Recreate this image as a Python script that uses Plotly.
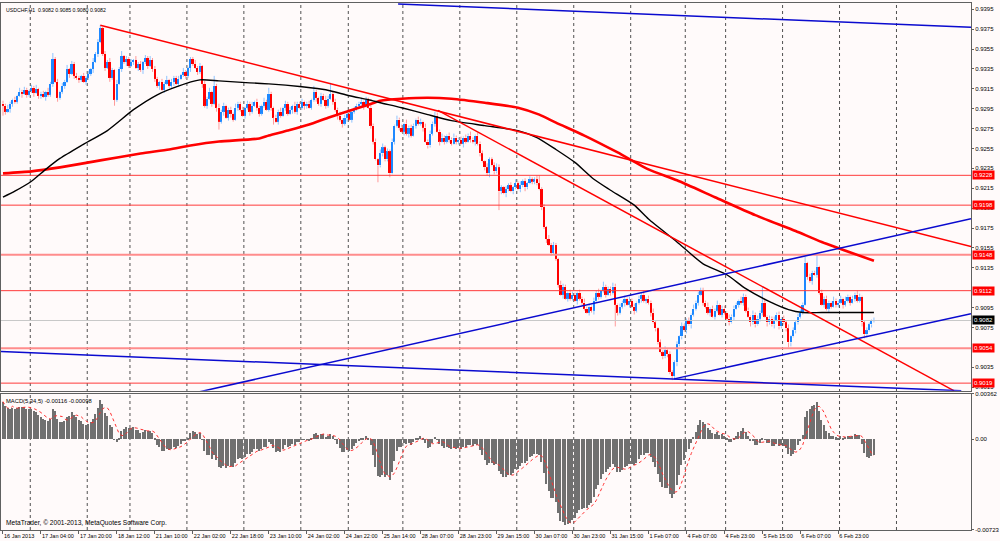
import numpy as np
import plotly.graph_objects as go

# ---------------- data ----------------
symbol_header = "USDCHF,H1  0.9082 0.9085 0.9080 0.9082"
macd_header = "MACD(5,34,5) -0.00116 -0.00098"
copyright_text = "MetaTrader, \u00a9 2001-2013, MetaQuotes Software Corp."

first_open_pips = 9300
close_pips = [
    9298, 9292, 9295, 9300, 9304, 9302, 9308, 9312, 9310, 9314, 9309, 9313, 9316, 9311, 9315, 9308,
    9310, 9307, 9312, 9309, 9320, 9345, 9322, 9306, 9312, 9318, 9322, 9335, 9330, 9340, 9328, 9326,
    9324, 9328, 9322, 9326, 9330, 9335, 9342, 9350, 9362, 9376, 9350, 9336, 9342, 9326, 9334, 9304,
    9320, 9335, 9348, 9342, 9345, 9338, 9342, 9344, 9336, 9340, 9334, 9342, 9346, 9338, 9344, 9335,
    9325, 9318, 9322, 9314, 9320, 9324, 9318, 9322, 9326, 9320, 9325, 9329, 9332, 9328, 9336, 9345,
    9340, 9336, 9332, 9338, 9320, 9298, 9305, 9312, 9300, 9318, 9296, 9282, 9292, 9298, 9286, 9294,
    9290, 9284, 9296, 9300, 9294, 9288, 9296, 9300, 9292, 9298, 9302, 9296, 9290, 9298, 9302, 9294,
    9310, 9296, 9286, 9282, 9292, 9288, 9296, 9300, 9290, 9294, 9298, 9292, 9300, 9296, 9302, 9298,
    9300, 9296, 9304, 9312, 9306, 9300, 9308, 9304, 9298, 9305, 9310, 9302, 9294, 9288, 9284, 9280,
    9286, 9290, 9284, 9292, 9294, 9298, 9300, 9302, 9298, 9304, 9296, 9278, 9262, 9244, 9238, 9250,
    9256, 9244, 9252, 9230, 9262, 9278, 9284, 9276, 9272, 9280, 9270, 9276, 9268, 9278, 9284, 9280,
    9282, 9276, 9262, 9258, 9270, 9280, 9288, 9272, 9262, 9266, 9262, 9268, 9264, 9260, 9266, 9262,
    9264, 9260, 9266, 9262, 9268, 9264, 9262, 9268, 9260, 9250, 9242, 9236, 9230, 9244, 9238, 9232,
    9236, 9212, 9216, 9210, 9214, 9218, 9212, 9216, 9220, 9214, 9218, 9222, 9216, 9220, 9224, 9222,
    9224, 9220, 9214, 9196, 9176, 9164, 9158, 9150, 9158, 9144, 9118, 9108, 9116, 9104, 9110, 9104,
    9108, 9102, 9110, 9104, 9100, 9094, 9090, 9096, 9092, 9102, 9110, 9106, 9112, 9116, 9108, 9114,
    9110, 9116, 9098, 9090, 9096, 9100, 9104, 9098, 9102, 9096, 9092, 9100, 9104, 9108, 9102, 9104,
    9100, 9090, 9080, 9074, 9060, 9050, 9046, 9052, 9048, 9030, 9026, 9040, 9058, 9066, 9076, 9072,
    9082, 9078, 9088, 9094, 9100, 9108, 9112, 9100, 9096, 9090, 9094, 9086, 9092, 9098, 9088, 9094,
    9090, 9084, 9080, 9086, 9094, 9098, 9102, 9100, 9106, 9092, 9086, 9080, 9088, 9078, 9084, 9090,
    9100, 9086, 9080, 9084, 9078, 9082, 9088, 9076, 9084, 9080, 9074, 9060, 9066, 9072, 9080, 9086,
    9090, 9098, 9140, 9126, 9122, 9130, 9128, 9136, 9110, 9098, 9104, 9094, 9100, 9096, 9102, 9098,
    9100, 9104, 9098, 9102, 9106, 9100, 9104, 9108, 9102, 9106, 9080, 9068, 9072, 9078, 9082, 9082,
]

# typical wick lengths in pips (upper / lower), one digit per bar
wick_up_rows = [
    "3242 1314 2321 3241", "2314 2623 1324 1323", "2132 3142 3213 2421", "4231 3231 4231 3242",
    "3213 2413 2231 4213", "2423 1324 1324 2312", "3142 2313 2413 2142", "4213 2413 2314 2231",
    "2314 2132 4312 3241", "3241 3224 1323 2314", "4232 3142 3142 3213", "3142 3213 2421 3242",
    "2313 2421 3231 4223", "4321 3231 4242 3132", "2432 3142 3214 3213", "3213 2423 1324 1322",
    "2431 3231 4231 3241", "3242 1324 1322 3142", "2314 2313 2413 2413", "3142 3214 3231 4232",
    "2413 2423 1324 1323", "3241 3224 1323 2142", "2314 2132 4312 3213",
]
wick_dn_rows = [
    "2314 3221 4132 2413", "3142 2314 2231 4132", "3213 2241 3123 1424", "2132 4213 1324 2313",
    "3241 3122 4131 2324", "2132 4231 3142 2413", "4213 2132 4213 3221", "2341 3213 2142 3124",
    "3122 4231 3213 2424", "2413 2132 4213 3142", "3224 1323 1424 2132", "2413 2231 4132 3213",
    "3142 1324 2313 2413", "2231 4213 2132 4213", "3213 2413 2231 4132", "2142 3213 2413 2231",
    "3213 2241 3142 2423", "2413 2132 3213 4231", "3142 2313 2241 3213", "2231 4132 3214 2313",
    "3142 2413 2231 4132", "2213 2413 2132 4213", "3142 2313 2241 3132",
]
high_spikes = {21: 9351, 41: 9379, 50: 9353, 79: 9347, 89: 9328, 112: 9316, 131: 9318,
               138: 9321, 182: 9292, 226: 9228, 253: 9121, 294: 9115, 320: 9116,
               338: 9146, 343: 9148, 367: 9085}
low_spikes = {0: 9288, 47: 9298, 91: 9274, 114: 9279, 143: 9276, 158: 9221, 163: 9226,
              209: 9193, 258: 9076, 282: 9022, 331: 9055, 363: 9064, 367: 9080}

time_labels = ["16 Jan 2013", "17 Jan 04:00", "17 Jan 20:00", "18 Jan 12:00", "21 Jan 10:00",
               "22 Jan 02:00", "22 Jan 18:00", "23 Jan 10:00", "24 Jan 02:00", "24 Jan 22:00",
               "25 Jan 14:00", "28 Jan 07:00", "28 Jan 23:00", "29 Jan 15:00", "30 Jan 07:00",
               "30 Jan 23:00", "31 Jan 15:00", "1 Feb 07:00", "4 Feb 07:00", "4 Feb 23:00",
               "5 Feb 15:00", "6 Feb 07:00", "6 Feb 23:00"]
label_bars = [16 * k for k in range(len(time_labels))]
day_break_bars = [12, 36, 54, 78, 102, 126, 146, 169, 193, 217, 241, 265, 288, 305, 329, 353, 377]

black_ma_bars = [0, 5, 12, 18, 24, 33, 44, 55, 65, 73, 83, 91, 104, 112, 126, 136, 146, 154, 159,
                 168, 179, 189, 203, 217, 225, 233, 241, 249, 256, 266, 272, 284, 295, 305, 313,
                 323, 331, 337, 345, 367]
black_ma_pips = [9206, 9212, 9222, 9234, 9245, 9258, 9273, 9294, 9309, 9317, 9324, 9323, 9321, 9320,
                 9317, 9314, 9308, 9304, 9301, 9296, 9289, 9283, 9278, 9273, 9266, 9254, 9241, 9224,
                 9213, 9198, 9184, 9161, 9139, 9128, 9114, 9101, 9093, 9090, 9090, 9090]
red_ma_bars = [0, 12, 24, 41, 58, 70, 79, 91, 108, 112, 120, 129, 137, 146, 154, 159, 168, 179,
               189, 203, 217, 226, 233, 245, 259, 272, 284, 300, 317, 334, 345, 367]
red_ma_pips = [9230, 9232, 9236, 9243, 9250, 9254, 9258, 9262, 9265, 9268, 9273, 9279, 9286, 9293,
               9299, 9303, 9305, 9306, 9305, 9301, 9296, 9289, 9281, 9268, 9251, 9234, 9223, 9206,
               9188, 9172, 9161, 9142]

red_trend_lines = [([41.0, 407.9], [0.9379, 0.91563]),
                   ([183.3, 400.8], [0.92933, 0.90113])]
blue_trend_lines = [([166.5, 407.9], [0.94003, 0.93768]),
                    ([-0.84, 403.8], [0.90508, 0.90113]),
                    ([82.8, 407.9], [0.90103, 0.91843]),
                    ([282.8, 407.9], [0.90233, 0.90888])]

red_levels = [0.9228, 0.9198, 0.9112, 0.9019]
pink_levels = [0.9148, 0.9054]
bid_price = 0.9082
price_ticks = [0.9395, 0.9375, 0.9355, 0.9335, 0.9315, 0.9295, 0.9275, 0.9255, 0.9235, 0.9215,
               0.9195, 0.9175, 0.9155, 0.9135, 0.9095, 0.9075, 0.9035, 0.9015]

macd_fast, macd_slow, macd_signal = 5, 34, 5
macd_seed_gap = 0.0030          # slow EMA below price at chart start (history before view)

# ---------------- derived series ----------------
PIP = 0.0001
n = len(close_pips)
close = np.array(close_pips) * PIP
open_ = np.concatenate([[first_open_pips * PIP], close[:-1]])
wu = np.array([int(ch) for ch in "".join(wick_up_rows).replace(" ", "")][:n]) * PIP
wd = np.array([int(ch) for ch in "".join(wick_dn_rows).replace(" ", "")][:n]) * PIP
top = np.maximum(open_, close)
bot = np.minimum(open_, close)
high = top + wu
low = bot - wd
for k, v in high_spikes.items():
    high[k] = v * PIP
for k, v in low_spikes.items():
    low[k] = v * PIP
up = close >= open_
idx = np.arange(n)

# MACD (EMA fast - EMA slow, signal = SMA)
af, as_ = 2 / (macd_fast + 1), 2 / (macd_slow + 1)
ef = np.empty(n); es = np.empty(n)
ef[0] = close[0]; es[0] = close[0] - macd_seed_gap
for i in range(1, n):
    ef[i] = ef[i - 1] + af * (close[i] - ef[i - 1])
    es[i] = es[i - 1] + as_ * (close[i] - es[i - 1])
macd = ef - es
signal = np.convolve(macd, np.ones(macd_signal) / macd_signal, mode="full")[:n]
signal[:macd_signal - 1] = macd[:macd_signal - 1]


def wick_xy(mask):
    xs, ys = [], []
    for i in idx[mask]:
        xs += [i, i, None, i, i, None]
        ys += [top[i], high[i], None, bot[i], low[i], None]
    return xs, ys


# ---------------- figure ----------------
BG = "#FFFAFA"
FONT = "Liberation Sans"
W, H = 1000, 541
ML, MR, MT, MB = 1, 23, 0, 11
PH = H - MT - MB
PW = W - ML - MR
main_dom = [1 - 390 / PH, 1]
macd_dom = [0, 1 - 393 / PH]
xr = [-0.84, 407.9]

fig = go.Figure()

# candle wicks
for mask, col in [(up, "#8FC3FF"), (~up, "#FF9A9A")]:
    xs, ys = wick_xy(mask)
    fig.add_trace(go.Scatter(x=xs, y=ys, mode="lines", line=dict(color=col, width=1),
                             hoverinfo="skip", showlegend=False, xaxis="x", yaxis="y"))
# candle bodies
fig.add_trace(go.Bar(x=idx, base=bot, y=np.maximum(top - bot, 0.000015), width=0.72,
                     marker=dict(color=np.where(up, "#1E88FF", "#FF0000"), line=dict(width=0)),
                     showlegend=False, xaxis="x", yaxis="y"))

# bid line and horizontal levels
fig.add_trace(go.Scatter(x=xr, y=[bid_price] * 2, mode="lines", line=dict(color="#C8C8C8", width=1),
                         showlegend=False, xaxis="x", yaxis="y"))
for lv in red_levels:
    fig.add_trace(go.Scatter(x=xr, y=[lv] * 2, mode="lines", line=dict(color="#FF3A3A", width=1),
                             showlegend=False, xaxis="x", yaxis="y"))
for lv in pink_levels:
    fig.add_trace(go.Scatter(x=xr, y=[lv] * 2, mode="lines", line=dict(color="#FF8C8C", width=2),
                             showlegend=False, xaxis="x", yaxis="y"))

# moving averages
fig.add_trace(go.Scatter(x=red_ma_bars, y=np.array(red_ma_pips) * PIP, mode="lines",
                         line=dict(color="#FF0000", width=2.6, shape="spline", smoothing=0.6),
                         showlegend=False, xaxis="x", yaxis="y"))
fig.add_trace(go.Scatter(x=black_ma_bars, y=np.array(black_ma_pips) * PIP, mode="lines",
                         line=dict(color="#000000", width=1.4, shape="spline", smoothing=0.6),
                         showlegend=False, xaxis="x", yaxis="y"))

# trend lines
for xs, ys in red_trend_lines:
    fig.add_trace(go.Scatter(x=xs, y=ys, mode="lines", line=dict(color="#FF0000", width=1.5),
                             showlegend=False, xaxis="x", yaxis="y"))
for xs, ys in blue_trend_lines:
    fig.add_trace(go.Scatter(x=xs, y=ys, mode="lines", line=dict(color="#0A0ACF", width=1.5),
                             showlegend=False, xaxis="x", yaxis="y"))

# MACD
fig.add_trace(go.Bar(x=idx, y=macd, width=0.62, marker=dict(color="#707070", line=dict(width=0)),
                     showlegend=False, xaxis="x2", yaxis="y2"))
fig.add_trace(go.Scatter(x=idx, y=signal, mode="lines",
                         line=dict(color="#FF3030", width=1, dash="dot"),
                         showlegend=False, xaxis="x2", yaxis="y2"))

shapes = []
for b in day_break_bars:
    shapes.append(dict(type="line", xref="x", yref="paper", x0=b - 0.5, x1=b - 0.5, y0=0, y1=1,
                       line=dict(color="#505050", width=1, dash="dot"), layer="below"))

ann = [
    dict(text=symbol_header, xref="paper", yref="paper", x=3 / PW, y=1 - 2 / PH,
         xanchor="left", yanchor="top", showarrow=False, font=dict(family=FONT, size=5.2, color="#000")),
    dict(text=macd_header, xref="paper", yref="paper", x=3 / PW, y=1 - 395 / PH,
         xanchor="left", yanchor="top", showarrow=False, font=dict(family=FONT, size=5.8, color="#000")),
    dict(text=copyright_text, xref="paper", yref="paper", x=3 / PW, y=1 - 529 / PH,
         xanchor="left", yanchor="bottom", showarrow=False, font=dict(family=FONT, size=6.6, color="#000")),
]
for lv in red_levels + pink_levels:
    ann.append(dict(text=f"{lv:.4f}", xref="paper", yref="y", x=1, y=lv, xanchor="left",
                    yanchor="middle", xshift=1, showarrow=False, bgcolor="#FF0000", borderpad=1,
                    font=dict(family=FONT, size=6, color="#FFFFFF")))
ann.append(dict(text=f"{bid_price:.4f}", xref="paper", yref="y", x=1, y=bid_price, xanchor="left",
                yanchor="middle", xshift=1, showarrow=False, bgcolor="#000000", borderpad=1,
                font=dict(family=FONT, size=6, color="#FFFFFF")))

axis_common = dict(showgrid=False, zeroline=False, showline=True, mirror=True,
                   linecolor="#606060", linewidth=1)
fig.update_layout(
    width=W, height=H, autosize=False, margin=dict(l=ML, r=MR, t=MT, b=MB, pad=0),
    paper_bgcolor=BG, plot_bgcolor=BG, barmode="overlay", bargap=0,
    font=dict(family=FONT, size=7, color="#000"),
    shapes=shapes, annotations=ann, showlegend=False,
    xaxis=dict(domain=[0, 1], range=xr, anchor="y", showticklabels=False, ticks="", **axis_common),
    xaxis2=dict(domain=[0, 1], range=xr, anchor="y2", tickvals=label_bars, ticktext=time_labels,
                ticks="outside", ticklen=3, tickcolor="#606060", ticklabelposition="outside right",
                tickangle=0, tickfont=dict(family=FONT, size=5.5), **axis_common),
    yaxis=dict(domain=main_dom, range=[0.90113, 0.94013], side="right", anchor="x",
               tickvals=price_ticks, ticktext=[f"{v:.4f}" for v in price_ticks], ticks="outside",
               ticklen=2, tickcolor="#606060", tickfont=dict(family=FONT, size=6), **axis_common),
    yaxis2=dict(domain=macd_dom, range=[-0.00723, 0.00362], side="right", anchor="x2",
                tickvals=[0.00362, 0.0, -0.00723], ticktext=["0.00362", "0.00", "-0.00723"],
                ticks="outside", ticklen=2, tickcolor="#606060",
                tickfont=dict(family=FONT, size=6), **axis_common),
)

fig.write_html(
    "out.html",
    config={"responsive": False, "displayModeBar": False},
    post_script=["document.body.style.margin='0px';document.body.style.overflow='hidden';"
                 "Plotly.relayout('{plot_id}', {width: 1000, height: 541});"],
)
